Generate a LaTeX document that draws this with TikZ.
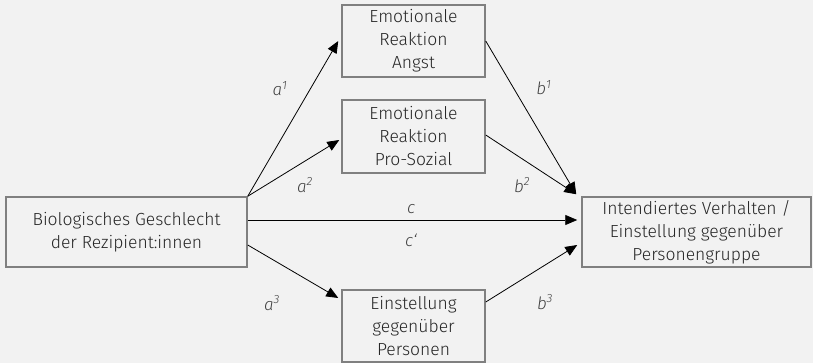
\documentclass[tikz,border=0pt]{standalone}
\usepackage{fontspec}
\setmainfont{Fira Sans Light}[ItalicFont={Fira Sans Light Italic}]
\usetikzlibrary{arrows.meta,calc}
\definecolor{bg}{HTML}{F2F2F2}
\definecolor{frame}{HTML}{808080}
\definecolor{ink}{HTML}{262626}
\definecolor{coefink}{HTML}{404040}
\tikzset{
  box/.style={draw=frame, line width=1.5pt, fill=bg, align=center, inner sep=0pt,
    font=\fontsize{17.5}{23}\selectfont, text=ink},
  path/.style={draw=black, line width=0.8pt, -{Triangle[length=12pt,width=10pt]}},
  coef/.style={font=\itshape\fontsize{17}{20}\selectfont, text=coefink}
}
\begin{document}
\begin{tikzpicture}[x=1pt,y=-1pt]
  \fill[bg] (0,0) rectangle (813,363);
  \useasboundingbox (0,0) rectangle (813,363);

  \node[box, minimum width=241pt, minimum height=70pt] (sex) at (126.5,232)
    {Biologisches Geschlecht\\der Rezipient:innen};
  \node[box, minimum width=143pt, minimum height=72pt] (fear) at (413.5,41)
    {Emotionale\\Reaktion\\Angst};
  \node[box, minimum width=143pt, minimum height=73pt] (prosoc) at (413.5,136.5)
    {Emotionale\\Reaktion\\Pro-Sozial};
  \node[box, minimum width=143pt, minimum height=72pt] (attit) at (413.5,326)
    {Einstellung\\gegenüber\\Personen};
  \node[box, minimum width=229pt, minimum height=70pt] (intent) at (696.5,232)
    {Intendiertes Verhalten /\\Einstellung gegenüber\\Personengruppe};

  % paths from the predictor to the mediators
  \draw[path] (sex.north east) -- ([xshift=-3pt]fear.west);
  \draw[path] (sex.north east) -- ($(prosoc.west)+(-2,3.5)$);
  \draw[path] ($(sex.east)+(0,13)$) -- ($(attit.west)+(-3,-28)$);
  % direct path
  \draw[path] ($(sex.east)+(0,-12)$) -- ($(intent.west)+(-4,-12)$);
  % paths from the mediators to the outcome
  \draw[path] (fear.east) -- ($(intent.north west)+(-5,-2)$);
  \draw[path] ($(prosoc.east)+(0,-1.5)$) -- ($(intent.north west)+(-5,-2)$);
  \draw[path] ($(attit.east)+(0,-24)$) -- ($(intent.west)+(-4,13)$);

  % path coefficients
  \node[coef] (la1) at (280,89) {a\textsuperscript{1}};
  \node[coef] (la2) at (305,185) {a\textsuperscript{2}};
  \node[coef] (la3) at (272,303) {a\textsuperscript{3}};
  \node[coef] (lc) at (411,209) {c};
  \node[coef] (lcp) at (411,240) {c‘};
  \node[coef] (lb1) at (544,88) {b\textsuperscript{1}};
  \node[coef] (lb2) at (522,185) {b\textsuperscript{2}};
  \node[coef] (lb3) at (545,302) {b\textsuperscript{3}};
\end{tikzpicture}
\end{document}
